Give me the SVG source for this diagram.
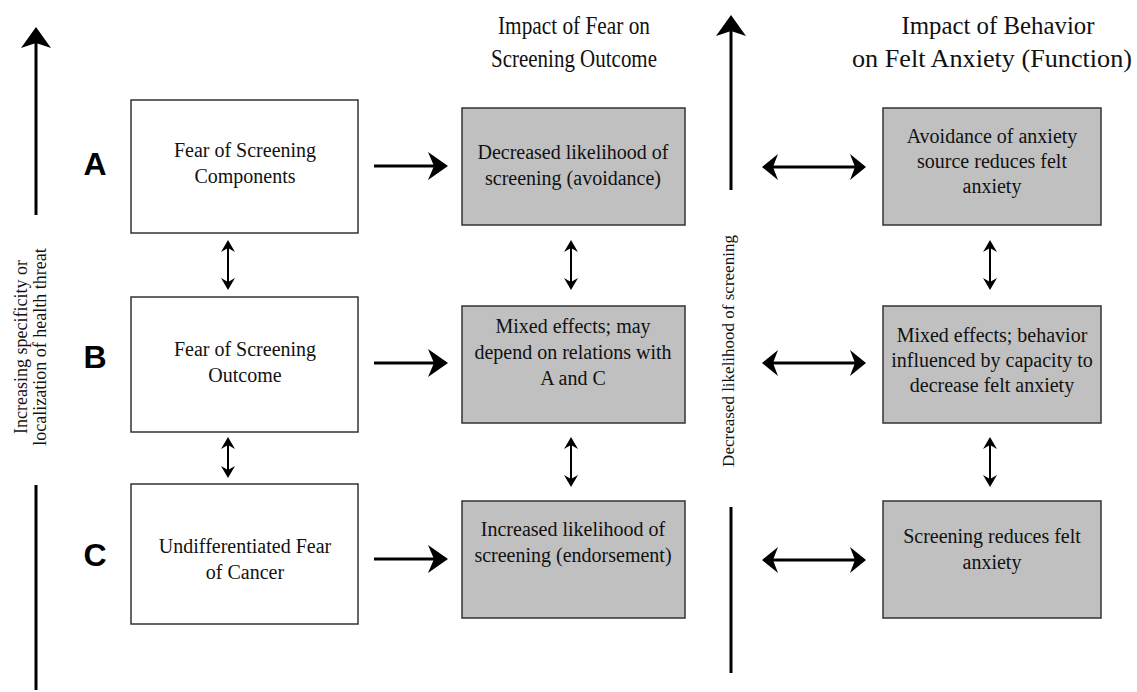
<svg xmlns="http://www.w3.org/2000/svg" width="1137" height="692" viewBox="0 0 1137 692">
<style>
  text { font-family: "Liberation Serif", "Times New Roman", "DejaVu Serif", serif; fill: #111; text-anchor: middle; }
  .t { font-size: 20px; }
  .h { font-size: 26px; }
  .r { font-size: 18px; }
  .rm { font-size: 17px; }
  .L { font-family: "Liberation Sans", Arial, sans-serif; font-size: 32px; font-weight: bold; fill: #000; }
  .w { fill: #fff; stroke: #333; stroke-width: 1.5; }
  .g { fill: #c0c0c0; stroke: #333; stroke-width: 1.5; }
  .thick { stroke: #000; stroke-width: 3; fill: none; }
  .thin { stroke: #000; stroke-width: 2; fill: none; }
</style>
<defs>
  <marker id="big" viewBox="-12 -16 24 32" refX="0" refY="0" markerWidth="24" markerHeight="32" markerUnits="userSpaceOnUse" orient="auto-start-reverse">
    <path d="M10,0 L-10,-14 L-4,0 L-10,14 Z" fill="#000"/>
  </marker>
  <marker id="vbig" viewBox="-12 -17 24 34" refX="0" refY="0" markerWidth="24" markerHeight="34" markerUnits="userSpaceOnUse" orient="auto-start-reverse">
    <path d="M10,0 L-11,-15 L-6,0 L-11,15 Z" fill="#000"/>
  </marker>
  <marker id="dbl" viewBox="-10 -15 20 30" refX="0" refY="0" markerWidth="20" markerHeight="30" markerUnits="userSpaceOnUse" orient="auto-start-reverse">
    <path d="M8,0 L-8,-13 L-3,0 L-8,13 Z" fill="#000"/>
  </marker>
  <marker id="sm" viewBox="-8 -9 16 18" refX="0" refY="0" markerWidth="16" markerHeight="18" markerUnits="userSpaceOnUse" orient="auto-start-reverse">
    <path d="M6,0 L-6,-7 L-2,0 L-6,7 Z" fill="#000"/>
  </marker>
</defs>

<g id="headings">
  <text class="h" x="574" y="34" textLength="152" lengthAdjust="spacingAndGlyphs">Impact of Fear on</text>
  <text class="h" x="574" y="67" textLength="166" lengthAdjust="spacingAndGlyphs">Screening Outcome</text>
  <text class="h" x="998" y="34" textLength="193" lengthAdjust="spacingAndGlyphs">Impact of Behavior</text>
  <text class="h" x="992" y="67" textLength="280" lengthAdjust="spacingAndGlyphs">on Felt Anxiety (Function)</text>
</g>

<g id="axis-left">
  <text class="r" transform="translate(0,347) rotate(-90)" x="0" y="27">Increasing specificity or</text>
  <text class="r" transform="translate(0,347) rotate(-90)" x="0" y="46">localization of health threat</text>
</g>
<g id="axis-mid">
  <text class="rm" transform="translate(0,351) rotate(-90)" x="0" y="734">Decreased likelihood of screening</text>
</g>

<g id="letters">
  <text class="L" x="95" y="175">A</text>
  <text class="L" x="95" y="368">B</text>
  <text class="L" x="95" y="566">C</text>
</g>

<g id="connectors">
  <line class="thick" x1="36" y1="215" x2="36" y2="37" marker-end="url(#vbig)"/>
  <line class="thick" x1="36" y1="485" x2="36" y2="690"/>
  <line class="thick" x1="731" y1="190" x2="731" y2="25" marker-end="url(#vbig)"/>
  <line class="thick" x1="731" y1="507" x2="731" y2="673"/>

  <line class="thick" x1="374" y1="166" x2="438" y2="166" marker-end="url(#big)"/>
  <line class="thick" x1="374" y1="363" x2="438" y2="363" marker-end="url(#big)"/>
  <line class="thick" x1="374" y1="559" x2="438" y2="559" marker-end="url(#big)"/>

  <line class="thick" x1="770" y1="167" x2="858" y2="167" marker-start="url(#dbl)" marker-end="url(#dbl)"/>
  <line class="thick" x1="770" y1="363" x2="858" y2="363" marker-start="url(#dbl)" marker-end="url(#dbl)"/>
  <line class="thick" x1="770" y1="560" x2="858" y2="560" marker-start="url(#dbl)" marker-end="url(#dbl)"/>

  <line class="thin" x1="228" y1="246" x2="228" y2="284" marker-start="url(#sm)" marker-end="url(#sm)"/>
  <line class="thin" x1="228" y1="443" x2="228" y2="472" marker-start="url(#sm)" marker-end="url(#sm)"/>
  <line class="thin" x1="571" y1="246" x2="571" y2="284" marker-start="url(#sm)" marker-end="url(#sm)"/>
  <line class="thin" x1="571" y1="443" x2="571" y2="481" marker-start="url(#sm)" marker-end="url(#sm)"/>
  <line class="thin" x1="990" y1="246" x2="990" y2="284" marker-start="url(#sm)" marker-end="url(#sm)"/>
  <line class="thin" x1="990" y1="443" x2="990" y2="481" marker-start="url(#sm)" marker-end="url(#sm)"/>
</g>

<g id="node-a1">
  <rect class="w" x="131" y="100" width="227" height="133"/>
  <text class="t" x="245" y="157">Fear of Screening</text>
  <text class="t" x="245" y="183">Components</text>
</g>
<g id="node-b1">
  <rect class="w" x="131" y="297" width="227" height="135"/>
  <text class="t" x="245" y="356">Fear of Screening</text>
  <text class="t" x="245" y="382">Outcome</text>
</g>
<g id="node-c1">
  <rect class="w" x="131" y="484" width="227" height="140"/>
  <text class="t" x="245" y="553">Undifferentiated Fear</text>
  <text class="t" x="245" y="579">of Cancer</text>
</g>

<g id="node-a2">
  <rect class="g" x="462" y="108" width="223" height="117"/>
  <text class="t" x="573" y="159">Decreased likelihood of</text>
  <text class="t" x="573" y="185">screening (avoidance)</text>
</g>
<g id="node-b2">
  <rect class="g" x="462" y="306" width="223" height="117"/>
  <text class="t" x="573" y="333">Mixed effects; may</text>
  <text class="t" x="573" y="359">depend on relations with</text>
  <text class="t" x="573" y="385">A and C</text>
</g>
<g id="node-c2">
  <rect class="g" x="462" y="501" width="223" height="117"/>
  <text class="t" x="573" y="536">Increased likelihood of</text>
  <text class="t" x="573" y="562">screening (endorsement)</text>
</g>

<g id="node-a3">
  <rect class="g" x="883" y="108" width="218" height="117"/>
  <text class="t" x="992" y="143">Avoidance of anxiety</text>
  <text class="t" x="992" y="168">source reduces felt</text>
  <text class="t" x="992" y="193">anxiety</text>
</g>
<g id="node-b3">
  <rect class="g" x="883" y="306" width="218" height="117"/>
  <text class="t" x="992" y="342">Mixed effects; behavior</text>
  <text class="t" x="992" y="367">influenced by capacity to</text>
  <text class="t" x="992" y="392">decrease felt anxiety</text>
</g>
<g id="node-c3">
  <rect class="g" x="883" y="501" width="218" height="117"/>
  <text class="t" x="992" y="543">Screening reduces felt</text>
  <text class="t" x="992" y="569">anxiety</text>
</g>
</svg>
